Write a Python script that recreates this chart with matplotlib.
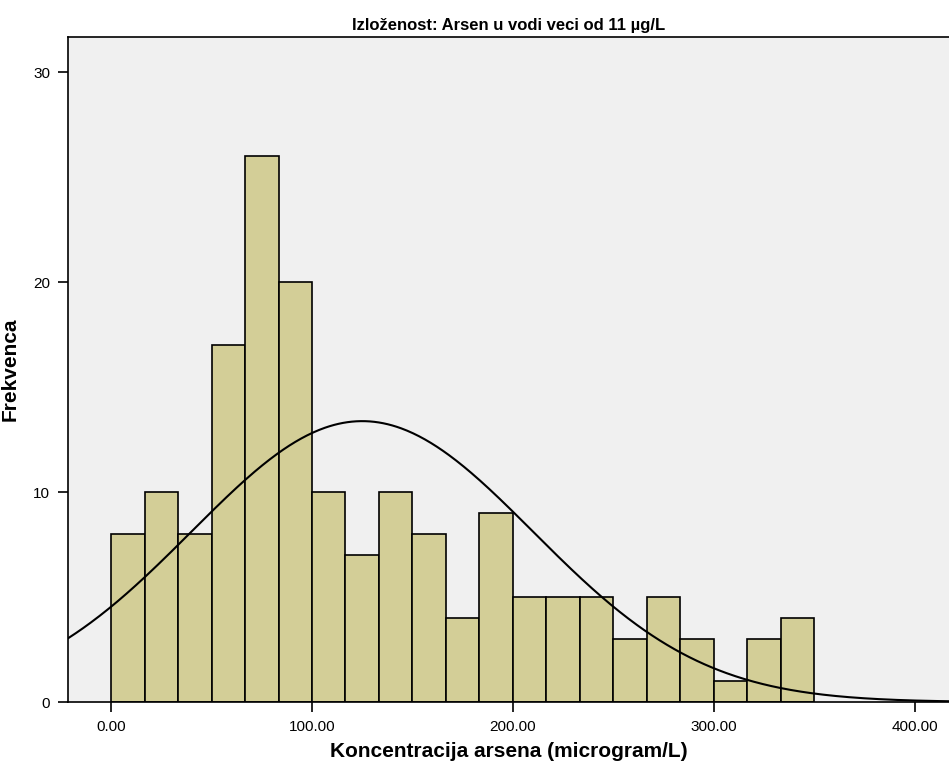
import numpy as np
import matplotlib
matplotlib.use("Agg")
import matplotlib.pyplot as plt

plt.rcParams['font.family'] = ['Liberation Sans', 'DejaVu Sans']

# histogram of arsenic concentration, 21 bins from 0 to 350
bin_start = 0.0
bin_width = 350.0 / 21
counts = [8, 10, 8, 17, 26, 20, 10, 7, 10, 8, 4, 9, 5, 5, 5, 3, 5, 3, 1, 3, 4]

# fitted normal curve parameters
mean_val = 125.0
std_val = 85.0

x_ticks = [0, 100, 200, 300, 400]
x_tick_labels = ["0.00", "100.00", "200.00", "300.00", "400.00"]
y_ticks = [0, 10, 20, 30]

fig = plt.figure(figsize=(9.49, 7.69), dpi=100)
ax = fig.add_axes([0.0717, 0.0871, 0.9283, 0.8648])
ax.set_facecolor('#F0F0F0')

lefts = bin_start + bin_width * np.arange(len(counts))
ax.bar(lefts, counts, width=bin_width, align='edge', color='#D3CE97',
       edgecolor='black', linewidth=1.2, zorder=2)

n = sum(counts)
xs = np.linspace(-25, 420, 600)
ys = n * bin_width / (std_val * np.sqrt(2 * np.pi)) * np.exp(-0.5 * ((xs - mean_val) / std_val) ** 2)
ax.plot(xs, ys, color='black', linewidth=1.5, zorder=3)

ax.set_xlim(-21.4, 417)
ax.set_ylim(0, 31.67)
ax.set_xticks(x_ticks)
ax.set_xticklabels(x_tick_labels)
ax.set_yticks(y_ticks)
ax.tick_params(direction='out', length=7, width=1.2, labelsize=11, pad=6)

for side in ['left', 'bottom', 'top']:
    ax.spines[side].set_linewidth(1.2)
ax.spines['right'].set_visible(False)

ax.set_title('Izloženost: Arsen u vodi veci od 11 µg/L', fontsize=12,
             fontweight='bold', pad=5)
ax.set_xlabel('Koncentracija arsena (microgram/L)', fontsize=15,
              fontweight='bold', labelpad=6)
ax.set_ylabel('Frekvenca', fontsize=15, fontweight='bold')
ax.yaxis.set_label_coords(-0.055, 0.5)

fig.savefig('out.png', dpi=100)
